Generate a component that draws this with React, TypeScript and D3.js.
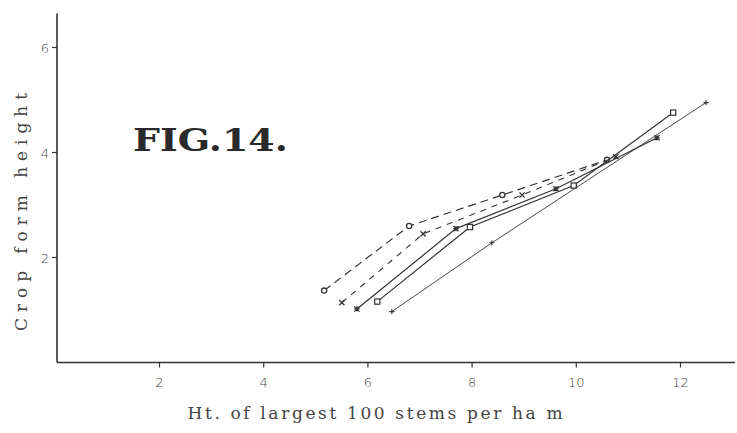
import * as d3 from "d3";

// x = ht. of largest 100 stems (m), y = crop form height
const seriesA = [
  [5.16, 1.37],
  [6.79, 2.6],
  [8.58, 3.19],
  [10.59, 3.86],
];
const seriesB = [
  [5.5, 1.14],
  [7.06, 2.45],
  [8.96, 3.19],
  [10.76, 3.92],
];
const seriesC = [
  [5.79, 1.02],
  [7.69, 2.55],
  [9.61, 3.31],
  [11.55, 4.28],
];
const seriesD = [
  [6.18, 1.16],
  [7.96, 2.58],
  [9.95, 3.37],
  [11.86, 4.76],
];
const seriesE = [
  [6.46, 0.97],
  [8.38, 2.28],
  [12.49, 4.95],
];

const xTicks = [2, 4, 6, 8, 10, 12];
const yTicks = [2, 4, 6];

const W = 737;
const H = 433;
const ink = "#333";

const Marker = ({ kind, x, y }: { kind: string; x: number; y: number }) => {
  const s = 2.6;
  if (kind === "circle")
    return <circle cx={x} cy={y} r={2.6} fill="#fff" stroke={ink} strokeWidth={1.3} />;
  if (kind === "square")
    return <rect x={x - 2.6} y={y - 2.6} width={5.2} height={5.2} fill="#fff" stroke={ink} strokeWidth={1.2} />;
  const cross = `M${x - s},${y - s}L${x + s},${y + s}M${x - s},${y + s}L${x + s},${y - s}`;
  const plus = `M${x - s},${y}L${x + s},${y}M${x},${y - s}L${x},${y + s}`;
  if (kind === "x") return <path d={cross} stroke={ink} strokeWidth={1.3} />;
  if (kind === "star") return <path d={cross + plus} stroke={ink} strokeWidth={1.2} />;
  return <path d={plus} stroke={ink} strokeWidth={1.1} />;
};

export default function App() {
  const x = d3.scaleLinear().domain([0, 13]).range([55.3, 55.3 + 13 * 52.1]);
  const y = d3.scaleLinear().domain([0, 6.65]).range([362.5, 362.5 - 6.65 * 52.5]);
  const line = d3
    .line<number[]>()
    .x((d) => x(d[0]))
    .y((d) => y(d[1]));

  const series = [
    { data: seriesA, dash: "8,5", width: 1.2, marker: "circle" },
    { data: seriesB, dash: "6,6", width: 1.1, marker: "x" },
    { data: seriesC, dash: "", width: 1.2, marker: "star" },
    { data: seriesD, dash: "", width: 1.2, marker: "square" },
    { data: seriesE, dash: "", width: 0.9, marker: "plus" },
  ];

  const x0 = x(0) + 1.7;
  const y0 = y(0);

  return (
    <svg
      width={W}
      height={H}
      style={{ position: "absolute", left: 0, top: 0, background: "#fff" }}
    >
      {/* axes */}
      <line x1={x0} x2={x0} y1={y(6.65)} y2={y0} stroke={ink} strokeWidth={1.6} />
      <line x1={x0} x2={735} y1={y0} y2={y0} stroke={ink} strokeWidth={1.6} />
      {yTicks.map((t) => (
        <g key={"y" + t}>
          <line x1={x0 - 5} x2={x0} y1={y(t)} y2={y(t)} stroke={ink} strokeWidth={1.2} />
          <text
            x={x0 - 8}
            y={y(t) + 5}
            textAnchor="end"
            fontFamily="DejaVu Sans"
            fontWeight={300}
            fontSize={13}
            fill="#444"
          >
            {t}
          </text>
        </g>
      ))}
      {xTicks.map((t) => (
        <g key={"x" + t}>
          <line x1={x(t)} x2={x(t)} y1={y0} y2={y0 + 5} stroke={ink} strokeWidth={1.2} />
          <text
            x={x(t)}
            y={y0 + 24}
            textAnchor="middle"
            fontFamily="DejaVu Sans"
            fontWeight={300}
            fontSize={13}
            fill="#444"
          >
            {t}
          </text>
        </g>
      ))}

      {/* series */}
      {series.map((s, i) => (
        <g key={i}>
          <path
            d={line(s.data) || ""}
            fill="none"
            stroke={ink}
            strokeWidth={s.width}
            strokeDasharray={s.dash || undefined}
          />
          {s.data.map((d, j) => (
            <Marker key={j} kind={s.marker} x={x(d[0])} y={y(d[1])} />
          ))}
        </g>
      ))}

      {/* titles */}
      <text
        x={133}
        y={151}
        fontFamily="DejaVu Serif"
        fontWeight="bold"
        fontSize={31}
        fill="#2a2a2a"
        textLength={155}
        lengthAdjust="spacingAndGlyphs"
      >
        FIG.14.
      </text>
      <text
        transform={`translate(27,212) rotate(-90)`}
        textAnchor="middle"
        fontFamily="DejaVu Serif"
        fontSize={17}
        fill="#444"
        textLength={238}
        lengthAdjust="spacing"
      >
        Crop form height
      </text>
      <text
        x={375}
        y={419}
        textAnchor="middle"
        fontFamily="DejaVu Serif"
        fontSize={17}
        fill="#444"
        textLength={375}
        lengthAdjust="spacing"
      >
        Ht. of largest 100 stems per ha m
      </text>
    </svg>
  );
}
